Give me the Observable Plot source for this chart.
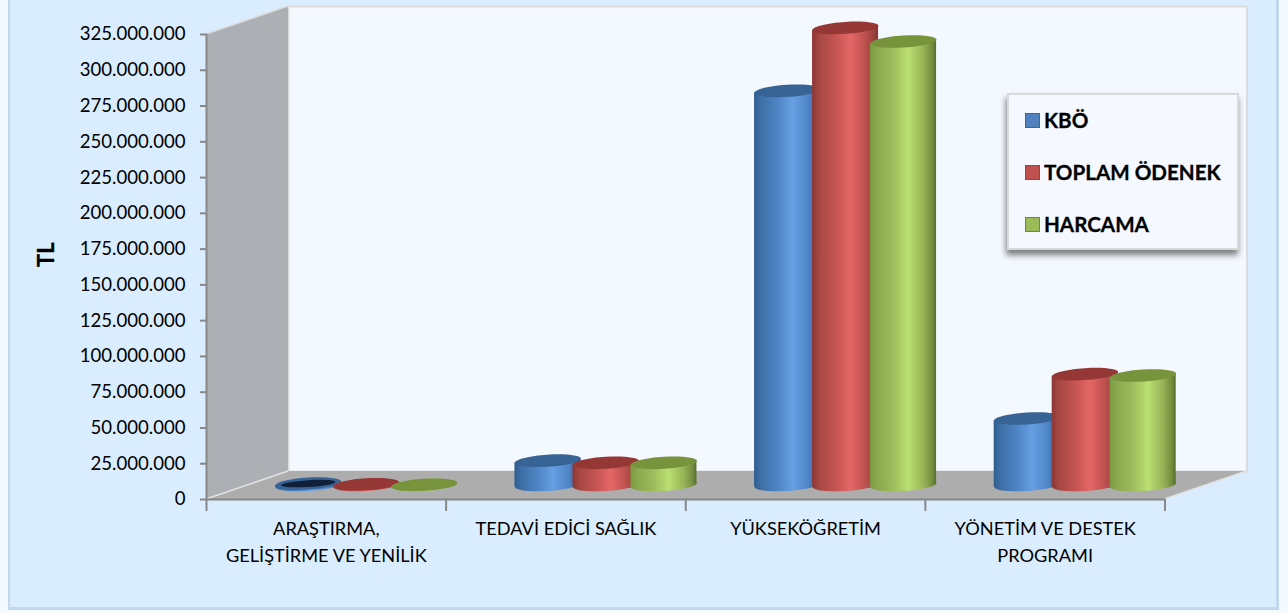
<!DOCTYPE html>
<html lang="tr">
<head>
<meta charset="utf-8">
<script src="https://cdn.jsdelivr.net/npm/d3@7"></script>
<script src="https://cdn.jsdelivr.net/npm/@observablehq/plot@0.6"></script>
<style>
html,body{margin:0;padding:0;background:#f4faff;overflow:hidden}
#wrap{position:relative;width:1288px;height:613px;font-family:Lato,sans-serif}
#wrap svg{display:block;position:absolute;left:0;top:0}
#legend{position:absolute;left:1007px;top:93px;width:228px;height:153px;background:#f5f8ff;border:2px solid #d9d9d9;box-shadow:-1px 5px 6px rgba(0,0,0,.5)}
.li{position:absolute;left:16px;display:flex;align-items:center;height:20px;font-weight:700;font-size:20.6px;color:#000;white-space:nowrap;-webkit-text-stroke:.3px #000}
.sw{width:13px;height:13px;border:1px solid;margin-right:4px;flex:none}
</style>
</head>
<body>
<div id="wrap"></div>
<script>
const categories = ["ARAŞTIRMA,\nGELİŞTİRME VE YENİLİK", "TEDAVİ EDİCİ SAĞLIK", "YÜKSEKÖĞRETİM", "YÖNETİM VE DESTEK\nPROGRAMI"];
const seriesNames = ["KBÖ", "TOPLAM ÖDENEK", "HARCAMA"];
const kbo = [1000000, 17000000, 275500000, 46500000];
const toplamOdenek = [500000, 15500000, 319500000, 77500000];
const harcama = [200000, 15500000, 310000000, 76500000];
const yTicks = [0, 25e6, 50e6, 75e6, 100e6, 125e6, 150e6, 175e6, 200e6, 225e6, 250e6, 275e6, 300e6, 325e6];

const seriesValues = [kbo, toplamOdenek, harcama];
const gradients = [
  [[0,"#2f5d8f"],[.1,"#3e6fa6"],[.35,"#4e84c4"],[.58,"#669fe2"],[.82,"#4f86c8"],[.95,"#3a669a"],[1,"#2e5480"]],
  [[0,"#8c3735"],[.1,"#a44744"],[.35,"#c45451"],[.58,"#e46767"],[.82,"#b94f4c"],[.95,"#983f3d"],[1,"#803432"]],
  [[0,"#7b9a41"],[.1,"#8aa84d"],[.35,"#9ebc5c"],[.58,"#bbdf72"],[.82,"#94b054"],[.95,"#6f8a3c"],[1,"#546c2e"]]
];
const topColors = ["#376494", "#953735", "#77933c"];
const swatch = [["#4f81bd","#3d6796"],["#c0504d","#9e413f"],["#9bbb59","#71893f"]];

// plot-area geometry
const W = 1288, H = 613, mL = 206, mR = 123.5, mT = 34, mB = 114;
const depthX = 82, depthY = -28, bw = (W - mL - mR) / 4;
const barW = 66, step = 58, tilt = -3.5 * Math.PI / 180;

function ellipseSymbol(rx, ry) {
  const c = Math.cos(tilt), s = Math.sin(tilt), k = 0.5523;
  const p = (x, y) => [x * c - y * s, x * s + y * c];
  return {draw(ctx) {
    ctx.moveTo(...p(rx, 0));
    ctx.bezierCurveTo(...p(rx, k * ry), ...p(k * rx, ry), ...p(0, ry));
    ctx.bezierCurveTo(...p(-k * rx, ry), ...p(-rx, k * ry), ...p(-rx, 0));
    ctx.bezierCurveTo(...p(-rx, -k * ry), ...p(-k * rx, -ry), ...p(0, -ry));
    ctx.bezierCurveTo(...p(k * rx, -ry), ...p(rx, -k * ry), ...p(rx, 0));
    ctx.closePath();
  }};
}
const capSymbol = ellipseSymbol(barW / 2, 6);
const innerSymbol = ellipseSymbol(barW / 2 - 6, 3.4);

function poly(g, pts, fill) {
  g.append("polygon").attr("points", pts.map(p => p.join(",")).join(" ")).attr("fill", fill);
}
function lineSeg(g, a, b, stroke, w) {
  g.append("line").attr("x1", a[0]).attr("y1", a[1]).attr("x2", b[0]).attr("y2", b[1]).attr("stroke", stroke).attr("stroke-width", w);
}

const backdrop = () => {
  const g = d3.create("svg:g");
  const defs = g.append("defs");
  gradients.forEach((stops, i) => {
    const lg = defs.append("linearGradient").attr("id", "cyl" + i).attr("x1", 0).attr("x2", 1).attr("y1", 0).attr("y2", 0);
    stops.forEach(([o, c]) => lg.append("stop").attr("offset", o).attr("stop-color", c));
  });
  g.append("rect").attr("x", 8).attr("y", -2).attr("width", 1271).attr("height", 612).attr("fill", "#c3d8f0");
  g.append("rect").attr("x", 10).attr("y", -2).attr("width", 1266).attr("height", 609).attr("fill", "#daedff");
  return g.node();
};

const walls = (index, scales) => {
  const g = d3.create("svg:g");
  const y0 = scales.y(0), y1 = scales.y(325e6);
  const x0 = mL, x1 = W - mR;
  poly(g, [[x0,y1],[x0+depthX,y1+depthY],[x0+depthX,y0+depthY],[x0,y0]], "#acafb3");
  poly(g, [[x0,y0],[x0+depthX,y0+depthY],[x1+depthX,y0+depthY],[x1,y0]], "#adadad");
  lineSeg(g, [x0,y1], [x0+depthX,y1+depthY], "#dcdcdc", 1.5);
  lineSeg(g, [x0,y0], [x0+depthX,y0+depthY], "#e2e2e2", 1.5);
  lineSeg(g, [x1,y0], [x1+depthX,y0+depthY], "#e2e2e2", 1.5);
  return g.node();
};

const skewBars = (index, scales, values, dims, ctx, next) => {
  const g = next(index, scales, values, dims, ctx);
  g.querySelectorAll("rect").forEach(r => {
    const cx = +r.getAttribute("x") + (+r.getAttribute("width")) / 2;
    r.setAttribute("transform", `translate(${cx},0) skewY(-3.5) translate(${-cx},0)`);
  });
  return g;
};

const rows = seriesValues.map(vals => categories.map((c, j) => ({c, v: vals[j]})));
const cylinderMarks = [];
const inset = (bw - barW) / 2;
for (let j = 0; j < categories.length; j++) {
  rows.forEach((r, i) => {
    const d = [r[j]];
    const dx = depthX / 2 - 1 + (i - 1) * step, dy = depthY / 2 - 0.5;
    const fill = `url(#cyl${i})`;
    cylinderMarks.push(
      Plot.dot(d, {x: "c", y: () => 0, dx, dy, symbol: capSymbol, fill, stroke: "none"}),
      Plot.barY(d, {x: "c", y: "v", dx, dy, insetLeft: inset, insetRight: inset, fill, render: skewBars}),
      Plot.dot(d, {x: "c", y: "v", dx, dy, symbol: capSymbol, fill: topColors[i], stroke: "none"})
    );
    if (i === 0 && j === 0) {
      cylinderMarks.push(Plot.dot(d, {x: "c", y: "v", dx, dy, symbol: innerSymbol, fill: "#10203a", stroke: "none"}));
    }
  });
}

const fmt = d => d3.format(",")(d).replace(/,/g, ".");
const axisGray = "#878787";

const plot = Plot.plot({
  width: W, height: H,
  marginLeft: mL, marginRight: mR, marginTop: mT, marginBottom: mB,
  style: {background: "transparent", fontFamily: "Lato, sans-serif", color: "#000", overflow: "visible"},
  x: {type: "band", domain: categories, padding: 0, round: false, label: null},
  y: {domain: [0, 325e6], label: null},
  marks: [
    backdrop,
    Plot.frame({fill: "#f4f8ff", stroke: "#dcdcdc", strokeWidth: 2, dx: depthX, dy: depthY}),
    walls,
    Plot.frame({anchor: "left", stroke: axisGray, strokeWidth: 2}),
    Plot.frame({anchor: "bottom", stroke: axisGray, strokeWidth: 2}),
    Plot.axisY({ticks: yTicks, tickFormat: fmt, tickSize: 6, tickPadding: 15, fontSize: 18.6, stroke: axisGray, strokeWidth: 2, fill: "#000", label: null}),
    Plot.ruleX(categories, {x: d => d, dx: -bw / 2, y1: 0, y2: -8.4e6, stroke: axisGray, strokeWidth: 2}),
    Plot.ruleX(categories.slice(-1), {x: d => d, dx: bw / 2, y1: 0, y2: -8.4e6, stroke: axisGray, strokeWidth: 2}),
    Plot.axisX({tickSize: 0, tickPadding: 17, fontSize: 18.2, lineHeight: 1.47, fill: "#000", label: null}),
    Plot.text(["TL"], {text: d => d, frameAnchor: "left", rotate: -90, dx: -160, fontSize: 22, fontWeight: 700, fill: "#000", stroke: "#000", strokeWidth: 0.3}),
    ...cylinderMarks
  ]
});

const wrap = document.getElementById("wrap");
wrap.appendChild(plot);

const legend = document.createElement("div");
legend.id = "legend";
const tops = [15, 67, 119];
seriesNames.forEach((n, i) => {
  const it = document.createElement("div");
  it.className = "li";
  it.style.top = tops[i] + "px";
  const s = document.createElement("span");
  s.className = "sw";
  s.style.background = swatch[i][0];
  s.style.borderColor = swatch[i][1];
  it.appendChild(s);
  it.appendChild(document.createTextNode(n));
  legend.appendChild(it);
});
wrap.appendChild(legend);
</script>
</body>
</html>
